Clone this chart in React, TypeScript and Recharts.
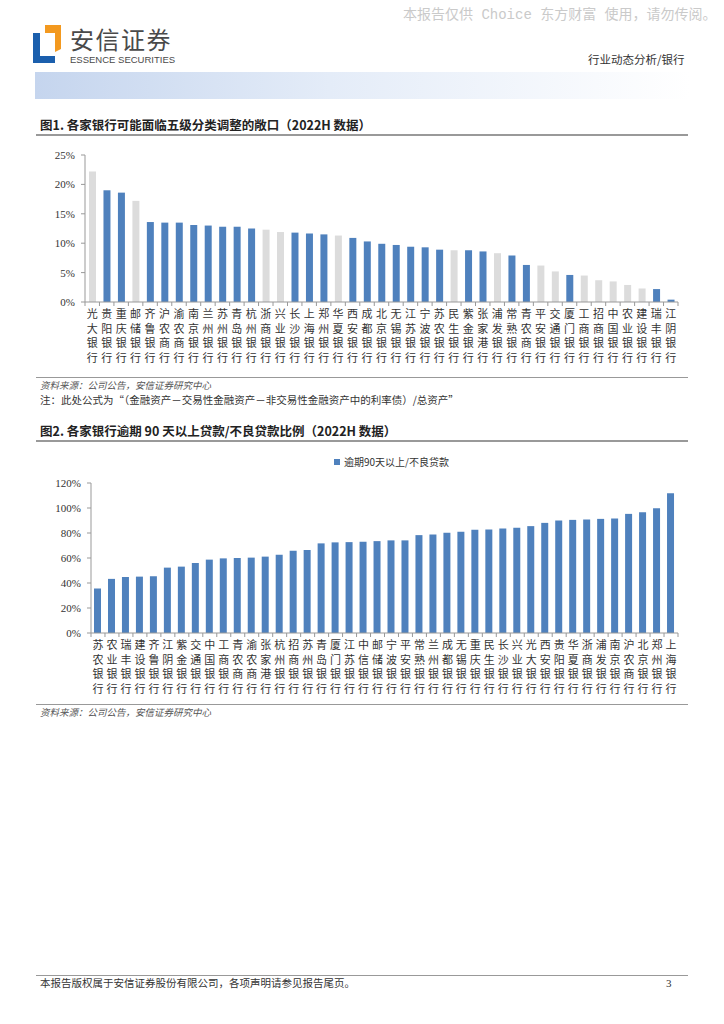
import React from "react";
import { BarChart, Bar, XAxis, YAxis, Cell } from "recharts";

const BLUE = "#4F81BD";
const GREY = "#DCDCDC";
const CJK = '"Noto Sans CJK SC", "Noto Sans", sans-serif';
const SERIF = '"Liberation Serif", "DejaVu Serif", serif';

// 图1：五级分类调整敞口
const exposureBanks = [
  "光大银行", "贵阳银行", "重庆银行", "邮储银行", "齐鲁银行", "沪农商行", "渝农商行", "南京银行", "兰州银行", "苏州银行",
  "青岛银行", "杭州银行", "浙商银行", "兴业银行", "长沙银行", "上海银行", "郑州银行", "华夏银行", "西安银行", "成都银行",
  "北京银行", "无锡银行", "江苏银行", "宁波银行", "苏农银行", "民生银行", "紫金银行", "张家港行", "浦发银行", "常熟银行",
  "青农商行", "平安银行", "交通银行", "厦门银行", "工商银行", "招商银行", "中国银行", "农业银行", "建设银行", "瑞丰银行",
  "江阴银行",
];
const exposureValues = [
  22.2, 19.0, 18.6, 17.2, 13.6, 13.5, 13.5, 13.1, 13.0, 12.8,
  12.8, 12.5, 12.3, 11.9, 11.8, 11.65, 11.5, 11.3, 10.9, 10.3,
  9.9, 9.7, 9.4, 9.3, 8.9, 8.8, 8.8, 8.6, 8.3, 7.9,
  6.3, 6.2, 5.2, 4.6, 4.5, 3.7, 3.5, 2.9, 2.3, 2.2,
  0.4,
];
// 全国性银行用灰色
const greyBanks = [
  "光大银行", "邮储银行", "浙商银行", "兴业银行", "华夏银行", "民生银行", "浦发银行",
  "平安银行", "交通银行", "工商银行", "招商银行", "中国银行", "农业银行", "建设银行",
];
const exposureTicks = [0, 5, 10, 15, 20, 25];

// 图2：逾期90天以上/不良贷款
const overdueName = "逾期90天以上/不良贷款";
const overdueBanks = [
  "苏农银行", "农业银行", "瑞丰银行", "建设银行", "齐鲁银行", "江阴银行", "紫金银行", "交通银行", "中国银行", "工商银行",
  "青农商行", "渝农商行", "张家港行", "杭州银行", "招商银行", "苏州银行", "青岛银行", "厦门银行", "江苏银行", "中信银行",
  "邮储银行", "宁波银行", "平安银行", "常熟银行", "兰州银行", "成都银行", "无锡银行", "重庆银行", "民生银行", "长沙银行",
  "兴业银行", "光大银行", "西安银行", "贵阳银行", "华夏银行", "浙商银行", "浦发银行", "南京银行", "沪农商行", "北京银行",
  "郑州银行", "上海银行",
];
const overdueValues = [
  35.6, 43.3, 44.9, 45.1, 45.4, 52.3, 53.1, 56.0, 58.7, 59.7,
  60.0, 60.3, 61.1, 62.6, 65.8, 66.4, 71.7, 72.5, 72.7, 73.0,
  73.5, 74.1, 74.1, 78.3, 78.8, 80.2, 81.0, 82.6, 82.8, 83.6,
  84.2, 85.5, 88.1, 90.0, 90.5, 90.8, 91.3, 91.6, 95.3, 96.6,
  99.8, 111.8,
];
const overdueTicks = [0, 20, 40, 60, 80, 100, 120];

const exposureData = exposureBanks.map((name, i) => ({ name, value: exposureValues[i] }));
const overdueData = overdueBanks.map((name, i) => ({ name, value: overdueValues[i] }));

const CHART_W = 700;
const RIGHT = 22;

// 竖排类目标签 + 类目之间的刻度线
function makeTick(step: number, count: number) {
  return (props: any) => {
    const { x, y, payload, index } = props;
    const chars = String(payload.value).split("");
    const left = x - step / 2;
    return (
      <g>
        <line x1={left} x2={left} y1={y} y2={y + 4} stroke="#999" />
        {index === count - 1 && <line x1={x + step / 2} x2={x + step / 2} y1={y} y2={y + 4} stroke="#999" />}
        {chars.map((c, i) => (
          <text key={i} x={x} y={y + 16 + i * 14.7} textAnchor="middle" fontSize={11} fontFamily={CJK} fill="#333">
            {c}
          </text>
        ))}
      </g>
    );
  };
}

const yTickStyle = { fontSize: 11, fontFamily: SERIF, fill: "#333" };

function Rule({ top, color = "#aaa", h = 1.5 }: { top: number; color?: string; h?: number }) {
  return <div style={{ position: "absolute", left: 36, width: 652, top, height: h, background: color }} />;
}

function Txt({ left, top, size, children, style }: any) {
  return (
    <div style={{ position: "absolute", left, top, fontSize: size, lineHeight: 1, whiteSpace: "nowrap", fontFamily: CJK, color: "#333", ...style }}>
      {children}
    </div>
  );
}

export default function App() {
  const axisY1 = 85;
  const axisY2 = 91;
  const step1 = (CHART_W - RIGHT - axisY1) / exposureData.length;
  const step2 = (CHART_W - RIGHT - axisY2) / overdueData.length;

  return (
    <div style={{ position: "absolute", left: 0, top: 0, width: 724, height: 1024, background: "#fff", overflow: "hidden" }}>
      {/* 水印 */}
      <Txt left={403} top={8} size={14} style={{ color: "#cacaca", fontFamily: '"Liberation Mono", "Noto Sans CJK SC", monospace' }}>
        本报告仅供 Choice 东方财富 使用，请勿传阅。
      </Txt>

      {/* 标志 */}
      <svg style={{ position: "absolute", left: 0, top: 0 }} width={200} height={70}>
        <path d="M33,33 L40,33 L40,56 L55,56 L55,63 L33,63 Z" fill="#1B5FAD" />
        <path d="M45,25 L61,25 L61,49 L55,52 L55,33 L45,33 Z" fill="#F3991F" />
      </svg>
      <Txt left={70} top={27} size={24} style={{ color: "#4a4a4a", letterSpacing: 1.5 }}>安信证券</Txt>
      <Txt left={70} top={55} size={9.5} style={{ color: "#4a4a4a", fontFamily: '"Liberation Sans Narrow", "Liberation Sans", sans-serif' }}>
        ESSENCE SECURITIES
      </Txt>
      <Txt left={588} top={54} size={11.5} style={{ color: "#333" }}>行业动态分析/银行</Txt>
      <div style={{ position: "absolute", left: 35, top: 72, width: 655, height: 27, background: "linear-gradient(90deg, #c5d5ee 0%, #e4ecf8 45%, #ffffff 100%)" }} />

      {/* 图1 */}
      <Txt left={40} top={119} size={12.5} style={{ fontWeight: 700, color: "#222" }}>图1. 各家银行可能面临五级分类调整的敞口（2022H 数据）</Txt>
      <Rule top={134} color="#999" />
      <div style={{ position: "absolute", left: 0, top: 140 }}>
        <BarChart width={CHART_W} height={240} data={exposureData} margin={{ top: 15, right: RIGHT, left: 0, bottom: 0 }}>
          <XAxis
            dataKey="name"
            interval={0}
            height={78}
            tickSize={0}
            tickMargin={0}
            tickLine={false}
            axisLine={{ stroke: "#999" }}
            tick={makeTick(step1, exposureData.length)}
          />
          <YAxis
            width={axisY1}
            domain={[0, 25]}
            ticks={exposureTicks}
            tickFormatter={(v) => `${v}%`}
            tick={yTickStyle}
            tickSize={4}
            tickMargin={6}
            axisLine={{ stroke: "#999" }}
            tickLine={{ stroke: "#999" }}
          />
          <Bar dataKey="value" barSize={7} isAnimationActive={false}>
            {exposureData.map((d, i) => (
              <Cell key={i} fill={greyBanks.includes(d.name) ? GREY : BLUE} />
            ))}
          </Bar>
        </BarChart>
      </div>
      <Rule top={377} color="#999" h={1} />
      <Txt left={40} top={381} size={9.5} style={{ fontStyle: "italic", color: "#555" }}>资料来源：公司公告，安信证券研究中心</Txt>
      <Txt left={40} top={395} size={10.5} style={{ color: "#333" }}>
        注：此处公式为“（金融资产－交易性金融资产－非交易性金融资产中的利率债）/总资产”
      </Txt>

      {/* 图2 */}
      <Txt left={40} top={425} size={12.5} style={{ fontWeight: 700, color: "#222" }}>图2. 各家银行逾期 90 天以上贷款/不良贷款比例（2022H 数据）</Txt>
      <Rule top={440} color="#999" />
      <div style={{ position: "absolute", left: 334, top: 454, display: "flex", alignItems: "center", fontFamily: CJK, fontSize: 10, color: "#333" }}>
        <span style={{ display: "inline-block", width: 6, height: 6, background: BLUE, marginRight: 4 }} />
        {overdueName}
      </div>
      <div style={{ position: "absolute", left: 0, top: 450 }}>
        <BarChart width={CHART_W} height={250} data={overdueData} margin={{ top: 33, right: RIGHT, left: 0, bottom: 0 }}>
          <XAxis
            dataKey="name"
            interval={0}
            height={67}
            tickSize={0}
            tickMargin={0}
            tickLine={false}
            axisLine={{ stroke: "#999" }}
            tick={makeTick(step2, overdueData.length)}
          />
          <YAxis
            width={axisY2}
            domain={[0, 120]}
            ticks={overdueTicks}
            tickFormatter={(v) => `${v}%`}
            tick={yTickStyle}
            tickSize={4}
            tickMargin={6}
            axisLine={{ stroke: "#999" }}
            tickLine={{ stroke: "#999" }}
          />
          <Bar dataKey="value" name={overdueName} barSize={7} fill={BLUE} isAnimationActive={false} />
        </BarChart>
      </div>
      <Rule top={704} color="#999" h={1} />
      <Txt left={40} top={708} size={9.5} style={{ fontStyle: "italic", color: "#555" }}>资料来源：公司公告，安信证券研究中心</Txt>

      {/* 页脚 */}
      <Rule top={975} color="#999" h={1} />
      <Txt left={40} top={978} size={10.5} style={{ color: "#333" }}>本报告版权属于安信证券股份有限公司，各项声明请参见报告尾页。</Txt>
      <Txt left={666} top={978} size={11} style={{ color: "#333", fontFamily: SERIF }}>3</Txt>
    </div>
  );
}
